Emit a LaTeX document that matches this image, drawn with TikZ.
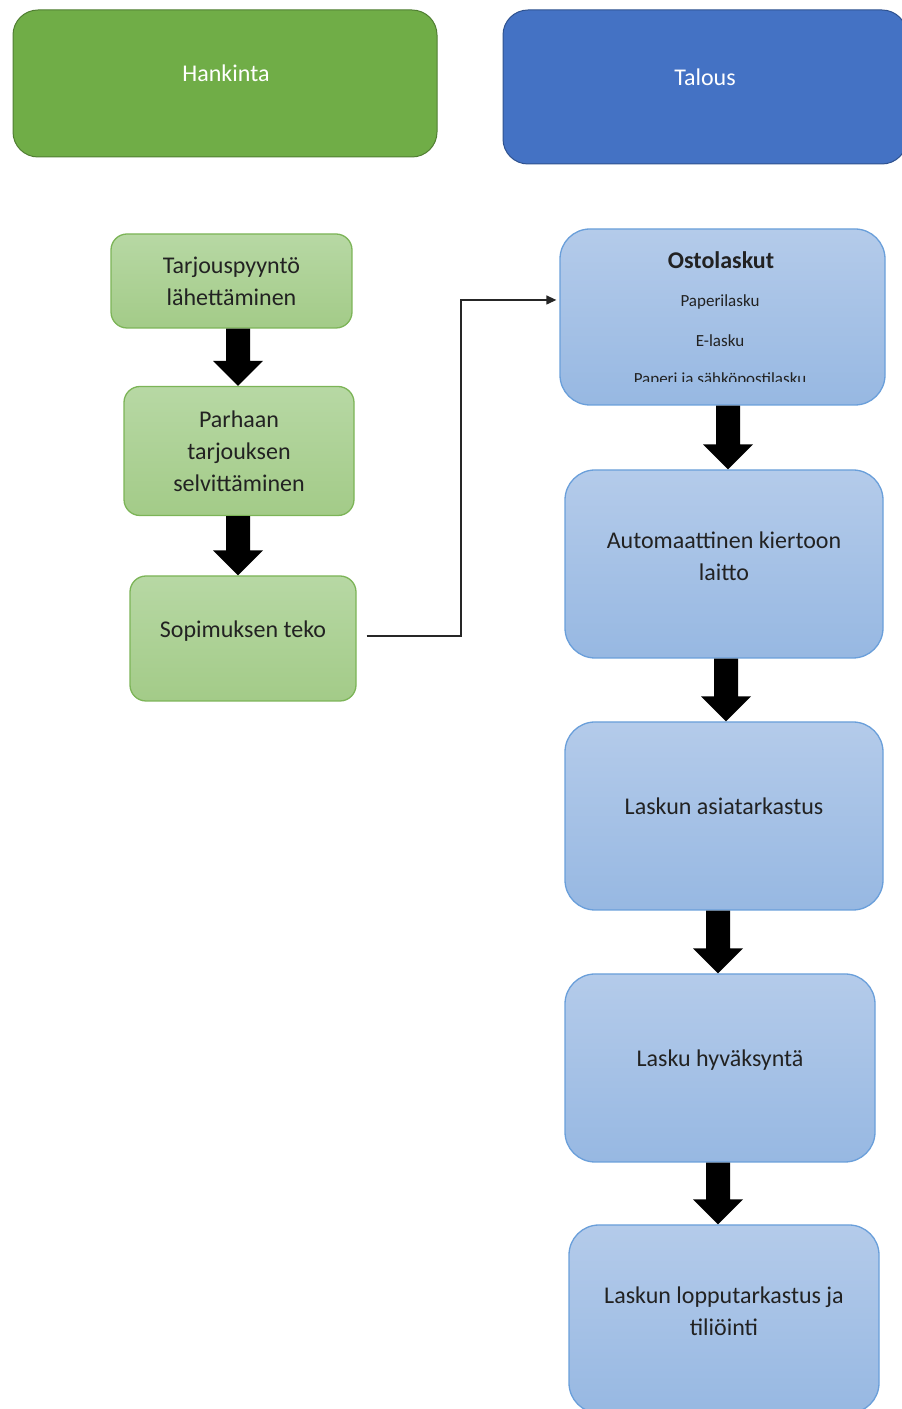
\documentclass[tikz,border=0pt]{standalone}
\usepackage{fontspec}
\setmainfont{Carlito}
\usetikzlibrary{arrows.meta,calc}

\definecolor{hankfill}{HTML}{70AD47}
\definecolor{hankline}{HTML}{507E32}
\definecolor{talfill}{HTML}{4472C4}
\definecolor{talline}{HTML}{2F528F}
\definecolor{greentop}{HTML}{B7D8A4}
\definecolor{greenbot}{HTML}{A3CB88}
\definecolor{greenline}{HTML}{7CB457}
\definecolor{bluetop}{HTML}{B4CBEA}
\definecolor{bluebot}{HTML}{97B8E2}
\definecolor{blueline}{HTML}{6A9FDA}
\definecolor{inktext}{HTML}{222222}

% thick black block arrow between two boxes (optional sideways offset)
\newcommand{\flowarrow}[3][0pt]{%
  \fill[black] let \p1=(#2.south), \p2=([xshift=#1]#3.north) in
    (\x2-12pt,\y1) -- (\x2+12pt,\y1) -- (\x2+12pt,\y2+25pt) -- (\x2+25pt,\y2+25pt)
    -- (\x2,\y2) -- (\x2-25pt,\y2+25pt) -- (\x2-12pt,\y2+25pt) -- cycle;}

\begin{document}
\begin{tikzpicture}[
  x=1pt, y=1pt,
  font=\fontsize{24}{32}\selectfont,
  >={Triangle[length=10pt,width=9pt]},
  head/.style={line width=1pt, rounded corners=25pt},
  greenbox/.style={draw=greenline, line width=1.3pt, rounded corners=16pt,
    top color=greentop, bottom color=greenbot, align=center, text=inktext},
  bluebox/.style={draw=blueline, line width=1.3pt, rounded corners=30pt,
    top color=bluetop, bottom color=bluebot},
  txt/.style={align=center, text=inktext},
  small/.style={font=\fontsize{17}{20}\selectfont, text=inktext},
  conn/.style={draw=black!85, line width=1.3pt, ->}
]
\useasboundingbox (0,0) rectangle (902,1409);

% column heads
\node[head, fill=hankfill, draw=hankline, minimum width=424pt, minimum height=147pt] (hank) at (225,1325.5) {};
\node[text=white] (hanktxt) at (226,1336) {Hankinta};
\node[head, fill=talfill, draw=talline, minimum width=404pt, minimum height=154pt] (tal) at (705,1322) {};
\node[text=white] (taltxt) at (705,1332) {Talous};

% Hankinta
\node[greenbox, minimum width=241pt, minimum height=94pt] (tar) at (231.5,1128) {Tarjouspyyntö\\lähettäminen};
\node[greenbox, minimum width=230pt, minimum height=129pt] (par) at (239,958) {Parhaan\\tarjouksen\\selvittäminen};
\node[greenbox, minimum width=226pt, minimum height=125pt] (sop) at (243,770.5) {};
\node[txt] (soptxt) at ([yshift=7pt]sop.center) {Sopimuksen teko};

% Talous
\node[bluebox, minimum width=325pt, minimum height=176pt] (ost) at (722.5,1092) {};
\node[txt, font=\fontsize{24}{32}\selectfont\bfseries] (osttxt) at (721,1149) {Ostolaskut};
\node[small] (paperi) at (720,1107) {Paperilasku};
\node[small] (elasku) at (720,1068) {E-lasku};
\begin{scope}
  \clip (ost.west |- 0,1027) rectangle (ost.north east);
  \node[small] (sahko) at (720,1029) {Paperi ja sähköpostilasku};
\end{scope}

\node[bluebox, minimum width=318pt, minimum height=188pt] (aut) at (724,845) {};
\node[txt] (auttxt) at ([yshift=8pt]aut.center) {Automaattinen kiertoon\\laitto};
\node[bluebox, minimum width=318pt, minimum height=188pt] (asia) at (724,593) {};
\node[txt] (asiatxt) at ([yshift=10pt]asia.center) {Laskun asiatarkastus};
\node[bluebox, minimum width=310pt, minimum height=188pt] (hyv) at (720,341) {};
\node[txt] (hyvtxt) at ([yshift=8pt]hyv.center) {Lasku hyväksyntä};
\node[bluebox, minimum width=310pt, minimum height=188pt] (lop) at (724,90) {};
\node[txt] (loptxt) at ([yshift=8pt]lop.center) {Laskun lopputarkastus ja\\tiliöinti};

% flow
\flowarrow[-1pt]{tar}{par}
\flowarrow[-5pt]{par}{sop}
\flowarrow[4pt]{ost}{aut}
\flowarrow[2pt]{aut}{asia}
\flowarrow[-2pt]{asia}{hyv}
\flowarrow[-6pt]{hyv}{lop}

\coordinate (bend) at (461,1109);
\draw[conn] ([xshift=10pt,yshift=2.5pt]sop.east) -| (bend) -- ([xshift=-3pt,yshift=17pt]ost.west);
\end{tikzpicture}
\end{document}
